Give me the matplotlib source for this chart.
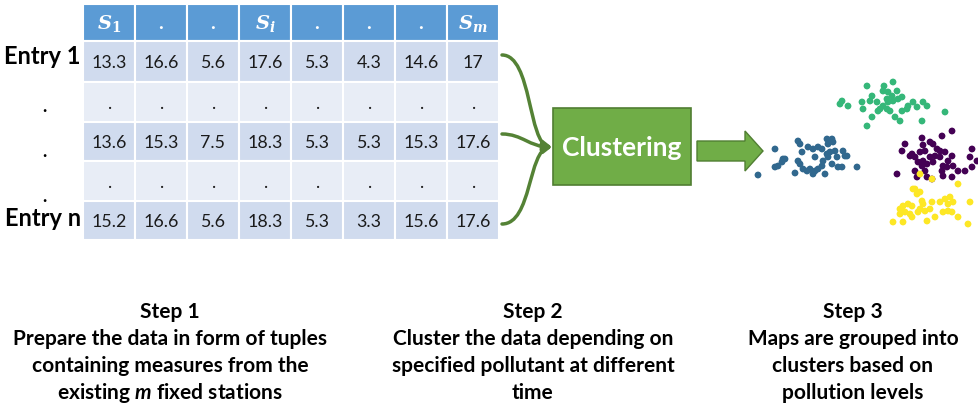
import matplotlib.pyplot as plt
from matplotlib.patches import Rectangle, FancyArrow, FancyArrowPatch
from matplotlib.path import Path

plt.rcParams['font.family'] = ['Lato', 'DejaVu Sans']
plt.rcParams['mathtext.fontset'] = 'custom'
plt.rcParams['mathtext.it'] = 'DejaVu Serif:italic:bold'
plt.rcParams['mathtext.rm'] = 'DejaVu Serif:bold'
plt.rcParams['mathtext.sf'] = 'Lato:italic:bold'

# table content
headers = ['$S_1$', '.', '.', '$S_i$', '.', '.', '.', '$S_m$']
row_labels = ['Entry 1', '.', '.', '.', 'Entry n']
rows = [
    ['13.3', '16.6', '5.6', '17.6', '5.3', '4.3', '14.6', '17'],
    ['.'] * 8,
    ['13.6', '15.3', '7.5', '18.3', '5.3', '5.3', '15.3', '17.6'],
    ['.'] * 8,
    ['15.2', '16.6', '5.6', '18.3', '5.3', '3.3', '15.6', '17.6'],
]

# step captions
steps = [
    ['Step 1', 'Prepare the data in form of tuples', 'containing measures from the',
     r'existing $\mathsf{m}$ fixed stations'],
    ['Step 2', 'Cluster the data depending on', 'specified pollutant at different', 'time'],
    ['Step 3', 'Maps are grouped into', 'clusters based on', 'pollution levels'],
]

# clustered map points (pixel positions inside the scatter panel)
green_x = [127, 144, 153, 143, 148, 157, 162, 158, 153, 148, 143, 147, 150, 140, 132, 130, 122, 123,
           132, 127, 102, 108, 100, 173, 183, 187, 167, 162, 155, 160, 182, 205, 137, 152, 147, 138, 177, 168]
green_y = [27, 27, 23, 32, 33, 32, 38, 40, 42, 43, 47, 50, 52, 50, 37, 42, 43, 50,
           58, 67, 42, 47, 45, 43, 43, 47, 50, 52, 58, 62, 62, 53, 43, 37, 40, 52, 48, 47]
blue_x = [35, 38, 35, 43, 42, 45, 55, 58, 60, 62, 58, 60, 63, 68, 67, 73, 75, 75, 73, 78, 82,
          83, 82, 85, 87, 88, 92, 93, 87, 88, 90, 92, 95, 97, 98, 102, 103, 105, 107, 117, 78, 70, 18]
blue_y = [90, 107, 108, 100, 103, 100, 114, 82, 85, 93, 102, 105, 110, 88, 112, 90, 98, 112, 115, 88, 90,
          102, 107, 115, 80, 85, 80, 83, 95, 98, 93, 105, 92, 98, 108, 108, 92, 97, 97, 108, 110, 110, 116]
purple_x = [212, 202, 182, 165, 190, 193, 183, 162, 172, 175, 170, 180, 185, 197, 200, 205, 212, 208,
            200, 195, 190, 183, 178, 182, 187, 193, 203, 202, 207, 213, 218, 225, 232, 230, 232, 237,
            175, 185, 187, 192, 212, 157, 177, 203]
purple_y = [72, 77, 79, 85, 83, 85, 86, 92, 95, 98, 97, 93, 92, 90, 92, 93, 97, 102,
            98, 97, 98, 102, 103, 107, 105, 103, 107, 112, 108, 107, 112, 112, 108, 98, 90, 102,
            112, 112, 118, 120, 118, 115, 118, 117]
yellow_x = [175, 180, 177, 163, 168, 172, 160, 165, 170, 182, 183, 180, 178, 185, 190, 192, 200, 205,
            210, 213, 208, 203, 208, 212, 230, 218, 153, 163, 172, 187, 195, 228, 218, 160, 180, 192, 173]
yellow_y = [130, 133, 135, 147, 145, 147, 150, 153, 155, 142, 145, 150, 153, 152, 150, 143, 143, 140,
            138, 143, 145, 153, 152, 153, 143, 158, 163, 163, 158, 162, 158, 165, 125, 155, 115, 120, 130]

W, H = 979, 406
fig = plt.figure(figsize=(W / 100, H / 100), dpi=100)
ax = fig.add_axes([0, 0, 1, 1])
ax.set_xlim(0, W)
ax.set_ylim(H, 0)
ax.axis('off')

# table grid
col_edges = [83, 135, 187, 239, 291, 343, 395, 447, 499]
row_edges = [5, 42, 83, 123, 162, 202, 241]
band = ['#D0DBEE', '#E8EDF6']
for j in range(len(headers)):
    x0, x1 = col_edges[j], col_edges[j + 1]
    ax.add_patch(Rectangle((x0, row_edges[0]), x1 - x0, row_edges[1] - row_edges[0],
                           fc='#5B9BD5', ec='white', lw=1.5))
    ax.text((x0 + x1) / 2, (row_edges[0] + row_edges[1]) / 2, headers[j], color='white',
            fontsize=14, fontweight='bold', ha='center', va='center')
    for i, row in enumerate(rows):
        y0, y1 = row_edges[i + 1], row_edges[i + 2]
        ax.add_patch(Rectangle((x0, y0), x1 - x0, y1 - y0, fc=band[i % 2], ec='white', lw=1.5))
        ax.text((x0 + x1) / 2, (y0 + y1) / 2 + 1, row[j], color='#1a1a1a', fontsize=12.8,
                ha='center', va='center')

label_y = [56, 107, 152, 197, 219]
for lab, ly in zip(row_labels, label_y):
    if lab == '.':
        ax.text(44, ly, lab, fontsize=13, fontweight='bold', ha='center', va='center', color='black')
    else:
        ax.text(81, ly, lab, fontsize=17, fontweight='bold', ha='right', va='center', color='black')

# curved arrows into the clustering box
green_dark = '#548235'
curves = [
    [(502, 56), (532, 56), (528, 145), (552, 148)],
    [(502, 135), (522, 135), (530, 148), (552, 148)],
    [(502, 225), (532, 225), (528, 151), (552, 148)],
]
for c in curves:
    p = Path(c, [Path.MOVETO, Path.CURVE4, Path.CURVE4, Path.CURVE4])
    ax.add_patch(FancyArrowPatch(path=p, arrowstyle='-|>,head_length=5,head_width=3',
                                 color=green_dark, lw=2.5, mutation_scale=1))

ax.add_patch(Rectangle((553, 109), 138, 77, fc='#70AD47', ec='#507E32', lw=1.2))
ax.text(622, 148, 'Clustering', color='white', fontsize=19, fontweight='bold',
        ha='center', va='center')

ax.add_patch(FancyArrow(697, 152, 66, 0, width=20, head_width=40, head_length=18,
                        length_includes_head=True, fc='#70AD47', ec='#507E32', lw=1))

# captions
cap_x = [170, 533, 853]
line_y = [312, 339, 366, 393]
for cx, lines in zip(cap_x, steps):
    for ly, txt in zip(line_y, lines):
        ax.text(cx, ly, txt, fontsize=15, fontweight='bold', ha='center', va='center',
                color='black')

# scatter panel
sx = fig.add_axes([740 / W, 1 - 240 / H, 239 / W, 180 / H])
sx.set_xlim(0, 239)
sx.set_ylim(180, 0)
sx.axis('off')
for xs, ys, col in [(green_x, green_y, '#35b779'), (blue_x, blue_y, '#31688e'),
                    (purple_x, purple_y, '#440154'), (yellow_x, yellow_y, '#fde725')]:
    sx.scatter(xs, ys, s=24, color=col, edgecolors='none', clip_on=False)

fig.savefig('out.png', dpi=100)
